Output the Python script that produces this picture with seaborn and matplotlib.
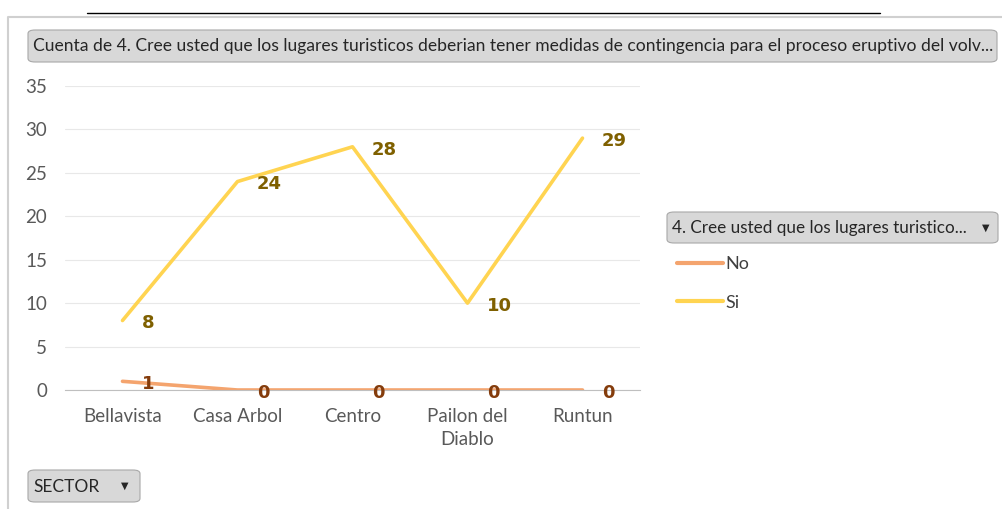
import pandas as pd
import matplotlib.pyplot as plt
import seaborn as sns
from matplotlib.patches import FancyBboxPatch
from matplotlib.lines import Line2D

# Data
sectores = ["Bellavista", "Casa Arbol", "Centro", "Pailon del\nDiablo", "Runtun"]
respuestas = ["No", "Si"]
valores_no = [1, 0, 0, 0, 0]
valores_si = [8, 24, 28, 10, 29]
colores = {"No": "#F4A46E", "Si": "#FFD451"}
colores_etiqueta = {"No": "#843C0C", "Si": "#7F6000"}

df = pd.DataFrame({
    "SECTOR": sectores * 2,
    "Respuesta": ["No"] * len(sectores) + ["Si"] * len(sectores),
    "Cuenta": valores_no + valores_si,
})
df["pos"] = df["SECTOR"].map({s: i for i, s in enumerate(sectores)})

sns.set_theme(style="white")
plt.rcParams["font.family"] = ["Lato", "DejaVu Sans"]

W, H = 1002, 509
fig = plt.figure(figsize=(W / 100, H / 100), dpi=100)
ax = fig.add_axes([65 / W, 1 - 390 / H, (640 - 65) / W, (390 - 86) / H])

sns.lineplot(data=df, x="pos", y="Cuenta", hue="Respuesta", hue_order=respuestas,
             palette=colores, linewidth=2.6, ax=ax, legend=True)

# data labels
for r in respuestas:
    sub = df[df["Respuesta"] == r]
    for _, row in sub.iterrows():
        ax.annotate(str(row["Cuenta"]), (row["pos"], row["Cuenta"]),
                    xytext=(14, -2), textcoords="offset points",
                    ha="left", va="center", fontsize=13, fontweight="bold",
                    color=colores_etiqueta[r], family="DejaVu Sans")

ax.set_xlim(-0.5, len(sectores) - 0.5)
ax.set_ylim(0, 35)
ax.set_yticks(range(0, 36, 5))
ax.set_xticks(range(len(sectores)))
ax.set_xticklabels(sectores)
for lab in ax.get_xticklabels():
    lab.set_linespacing(1.45)
ax.set_xticks([i - 0.5 for i in range(len(sectores) + 1)], minor=True)
ax.tick_params(axis="x", which="major", length=0, pad=13, labelsize=13.5, labelcolor="#595959")
ax.tick_params(axis="x", which="minor", length=6, width=0.8, color="#BFBFBF", direction="out")
ax.tick_params(axis="y", length=0, pad=13, labelsize=13.5, labelcolor="#595959")
ax.grid(axis="y", color="#E8E8E8", linewidth=0.8)
ax.set_xlabel("")
ax.set_ylabel("")
for s in ["top", "right", "left"]:
    ax.spines[s].set_visible(False)
ax.spines["bottom"].set_color("#BFBFBF")
ax.spines["bottom"].set_linewidth(0.8)
ax.set_facecolor("white")

# legend
leg = ax.legend(loc="upper left", bbox_to_anchor=(668 / W, 1 - 247 / H),
                bbox_transform=fig.transFigure, frameon=False, fontsize=13,
                handlelength=2.55, handletextpad=0.15, labelspacing=1.25, borderpad=0)
for t in leg.get_texts():
    t.set_color("#404040")
for l in leg.get_lines():
    l.set_linewidth(3)


def boton(x0, y0, x1, y1):
    fig.patches.append(FancyBboxPatch((x0 / W, 1 - y1 / H), (x1 - x0) / W, (y1 - y0) / H,
                                      boxstyle="round,pad=0,rounding_size=0.007",
                                      transform=fig.transFigure, facecolor="#D8D8D8",
                                      edgecolor="#A8A8A8", linewidth=0.8))


# pivot buttons
boton(28, 30, 997, 62)
fig.text(33 / W, 1 - 46 / H,
         "Cuenta de 4. Cree usted que los lugares turisticos deberian tener medidas de contingencia para el proceso eruptivo del volv...",
         ha="left", va="center", fontsize=12.6, color="#262626")

boton(667, 212, 998, 243)
fig.text(672 / W, 1 - 228 / H, "4. Cree usted que los lugares turistico...",
         ha="left", va="center", fontsize=12.3, color="#262626")
fig.text(986 / W, 1 - 228 / H, "▼", ha="center", va="center", fontsize=7,
         color="#262626", family="DejaVu Sans")

boton(28, 470, 140, 502)
fig.text(33 / W, 1 - 487 / H, "SECTOR", ha="left", va="center", fontsize=12.5, color="#262626")
fig.text(125 / W, 1 - 486 / H, "▼", ha="center", va="center", fontsize=7,
         color="#262626", family="DejaVu Sans")

# frame lines
fig.lines.append(Line2D([8 / W, 8 / W, 1], [0, 1 - 17 / H, 1 - 17 / H],
                        transform=fig.transFigure, color="#D0D0D0", linewidth=1.5))
fig.lines.append(Line2D([87 / W, 880 / W], [1 - 13 / H, 1 - 13 / H],
                        transform=fig.transFigure, color="black", linewidth=1))

fig.savefig("out.png", dpi=100, facecolor="white")
